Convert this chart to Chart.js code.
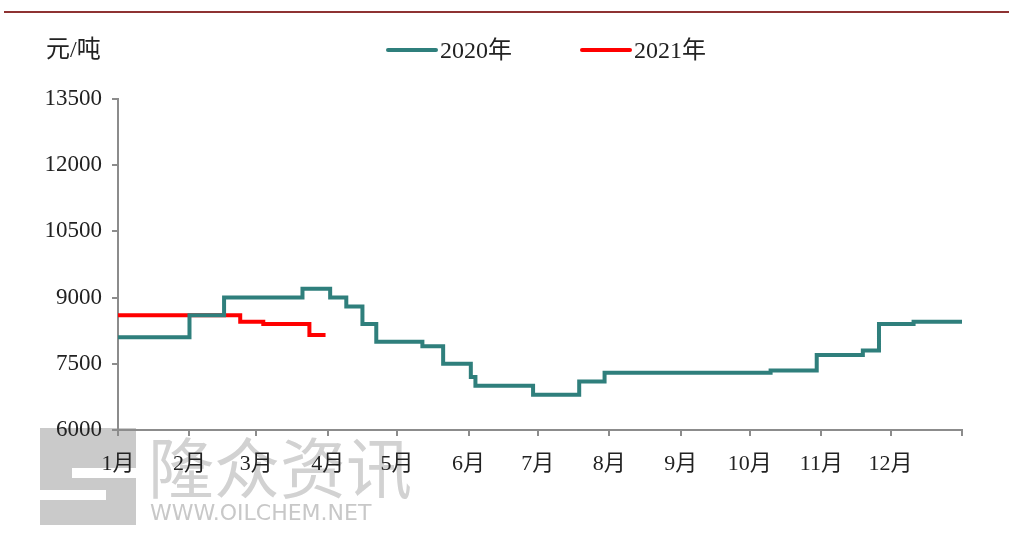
<!DOCTYPE html>
<html>
<head>
<meta charset="utf-8">
<script src="https://cdn.jsdelivr.net/npm/chart.js@4/dist/chart.umd.min.js"></script>
<style>
  html, body { margin: 0; padding: 0; background: #fff; }
  #wrap { width: 1009px; height: 534px; }
</style>
</head>
<body>
<div id="wrap"><canvas id="chart" width="1009" height="534"></canvas></div>
<script>
// x axis = day of year (0 = 1月1日), ticks at month starts
const monthStarts = [0, 31, 60, 91, 121, 152, 182, 213, 244, 274, 305, 335, 366];
const monthLabels = ['1月', '2月', '3月', '4月', '5月', '6月', '7月', '8月', '9月', '10月', '11月', '12月', ''];

// 2020年 price change points (day, 元/吨)
const days2020 = [0, 31, 46, 80, 92, 99, 106, 112, 132, 141, 153, 155, 180, 200, 211, 283, 303, 323, 330, 345, 366];
const price2020 = [8100, 8600, 9000, 9200, 9000, 8800, 8400, 8000, 7900, 7500, 7200, 7000, 6800, 7100, 7300, 7350, 7700, 7800, 8400, 8450, 8450];

// 2021年
const days2021 = [0, 53, 63, 83, 90];
const price2021 = [8600, 8450, 8400, 8150, 8150];

const yTicks = [6000, 7500, 9000, 10500, 12000, 13500];

const serif = "'Liberation Serif', 'Noto Sans CJK SC', serif";

function toPoints(xs, ys) {
    return xs.map((x, i) => ({ x: x, y: ys[i] }));
}

// background, watermark, unit label and legend
const decor = {
    id: 'decor',
    beforeDraw(chart) {
        const c = chart.ctx;
        c.save();
        c.fillStyle = '#fff';
        c.fillRect(0, 0, chart.width, chart.height);

        // top rule
        c.fillStyle = '#8e3232';
        c.fillRect(4, 11, 1005, 2);

        // watermark logo
        c.fillStyle = '#cacaca';
        c.fillRect(40, 428, 96, 97);
        c.fillStyle = '#fff';
        c.fillRect(72, 468, 64, 10);
        c.fillRect(40, 490, 66, 10);

        c.fillStyle = '#d2d2d2';
        c.font = "66px 'Noto Sans CJK SC'";
        c.textBaseline = 'middle';
        c.textAlign = 'left';
        c.fillText('隆众资讯', 148, 468);
        c.fillStyle = '#c8c8c8';
        c.font = "22px 'DejaVu Sans'";
        c.fillText('WWW.OILCHEM.NET', 150, 514);
        c.restore();
    },
    afterDraw(chart) {
        const c = chart.ctx;
        c.save();
        c.fillStyle = '#222';
        c.font = '24px ' + serif;
        c.textBaseline = 'middle';
        c.textAlign = 'left';
        c.fillText('元/吨', 46, 51);

        const items = [
            { label: '2020年', color: '#2f7f7c', x: 386 },
            { label: '2021年', color: '#ff0000', x: 580 }
        ];
        items.forEach(it => {
            c.strokeStyle = it.color;
            c.lineWidth = 4;
            c.lineCap = 'round';
            c.beginPath();
            c.moveTo(it.x + 2, 50);
            c.lineTo(it.x + 50, 50);
            c.stroke();
            c.fillStyle = '#222';
            c.fillText(it.label, it.x + 54, 52);
        });
        c.restore();
    }
};

const ctx = document.getElementById('chart').getContext('2d');
const myChart = new Chart(ctx, {
    type: 'line',
    data: {
        datasets: [
            {
                label: '2020年',
                data: toPoints(days2020, price2020),
                borderColor: '#2f7f7c',
                borderWidth: 4,
                stepped: 'before',
                pointRadius: 0,
                fill: false
            },
            {
                label: '2021年',
                data: toPoints(days2021, price2021),
                borderColor: '#ff0000',
                borderWidth: 4,
                stepped: 'before',
                pointRadius: 0,
                fill: false
            }
        ]
    },
    plugins: [decor],
    options: {
        responsive: false,
        animation: false,
        layout: { padding: { top: 99, right: 47, bottom: 44, left: 0 } },
        plugins: {
            legend: { display: false },
            tooltip: { enabled: false }
        },
        scales: {
            x: {
                type: 'linear',
                min: 0,
                max: 366,
                afterBuildTicks(scale) {
                    scale.ticks = monthStarts.map(v => ({ value: v }));
                },
                afterFit(scale) { scale.height = 60; },
                ticks: {
                    autoSkip: false,
                    maxRotation: 0,
                    padding: 15,
                    color: '#222',
                    font: { family: serif, size: 22 },
                    callback: (value, index) => monthLabels[index]
                },
                grid: { drawOnChartArea: false, drawTicks: true, tickLength: 6, color: '#8c8c8c', lineWidth: 2 },
                border: { color: '#8c8c8c', width: 2 }
            },
            y: {
                min: 6000,
                max: 13500,
                afterBuildTicks(scale) {
                    scale.ticks = yTicks.map(v => ({ value: v }));
                },
                afterFit(scale) { scale.width = 118; },
                ticks: {
                    padding: 10,
                    color: '#222',
                    font: { family: serif, size: 23 },
                    callback: value => String(value)
                },
                grid: { drawOnChartArea: false, drawTicks: true, tickLength: 6, color: '#8c8c8c', lineWidth: 2 },
                border: { color: '#8c8c8c', width: 2 }
            }
        }
    }
});
</script>
</body>
</html>
